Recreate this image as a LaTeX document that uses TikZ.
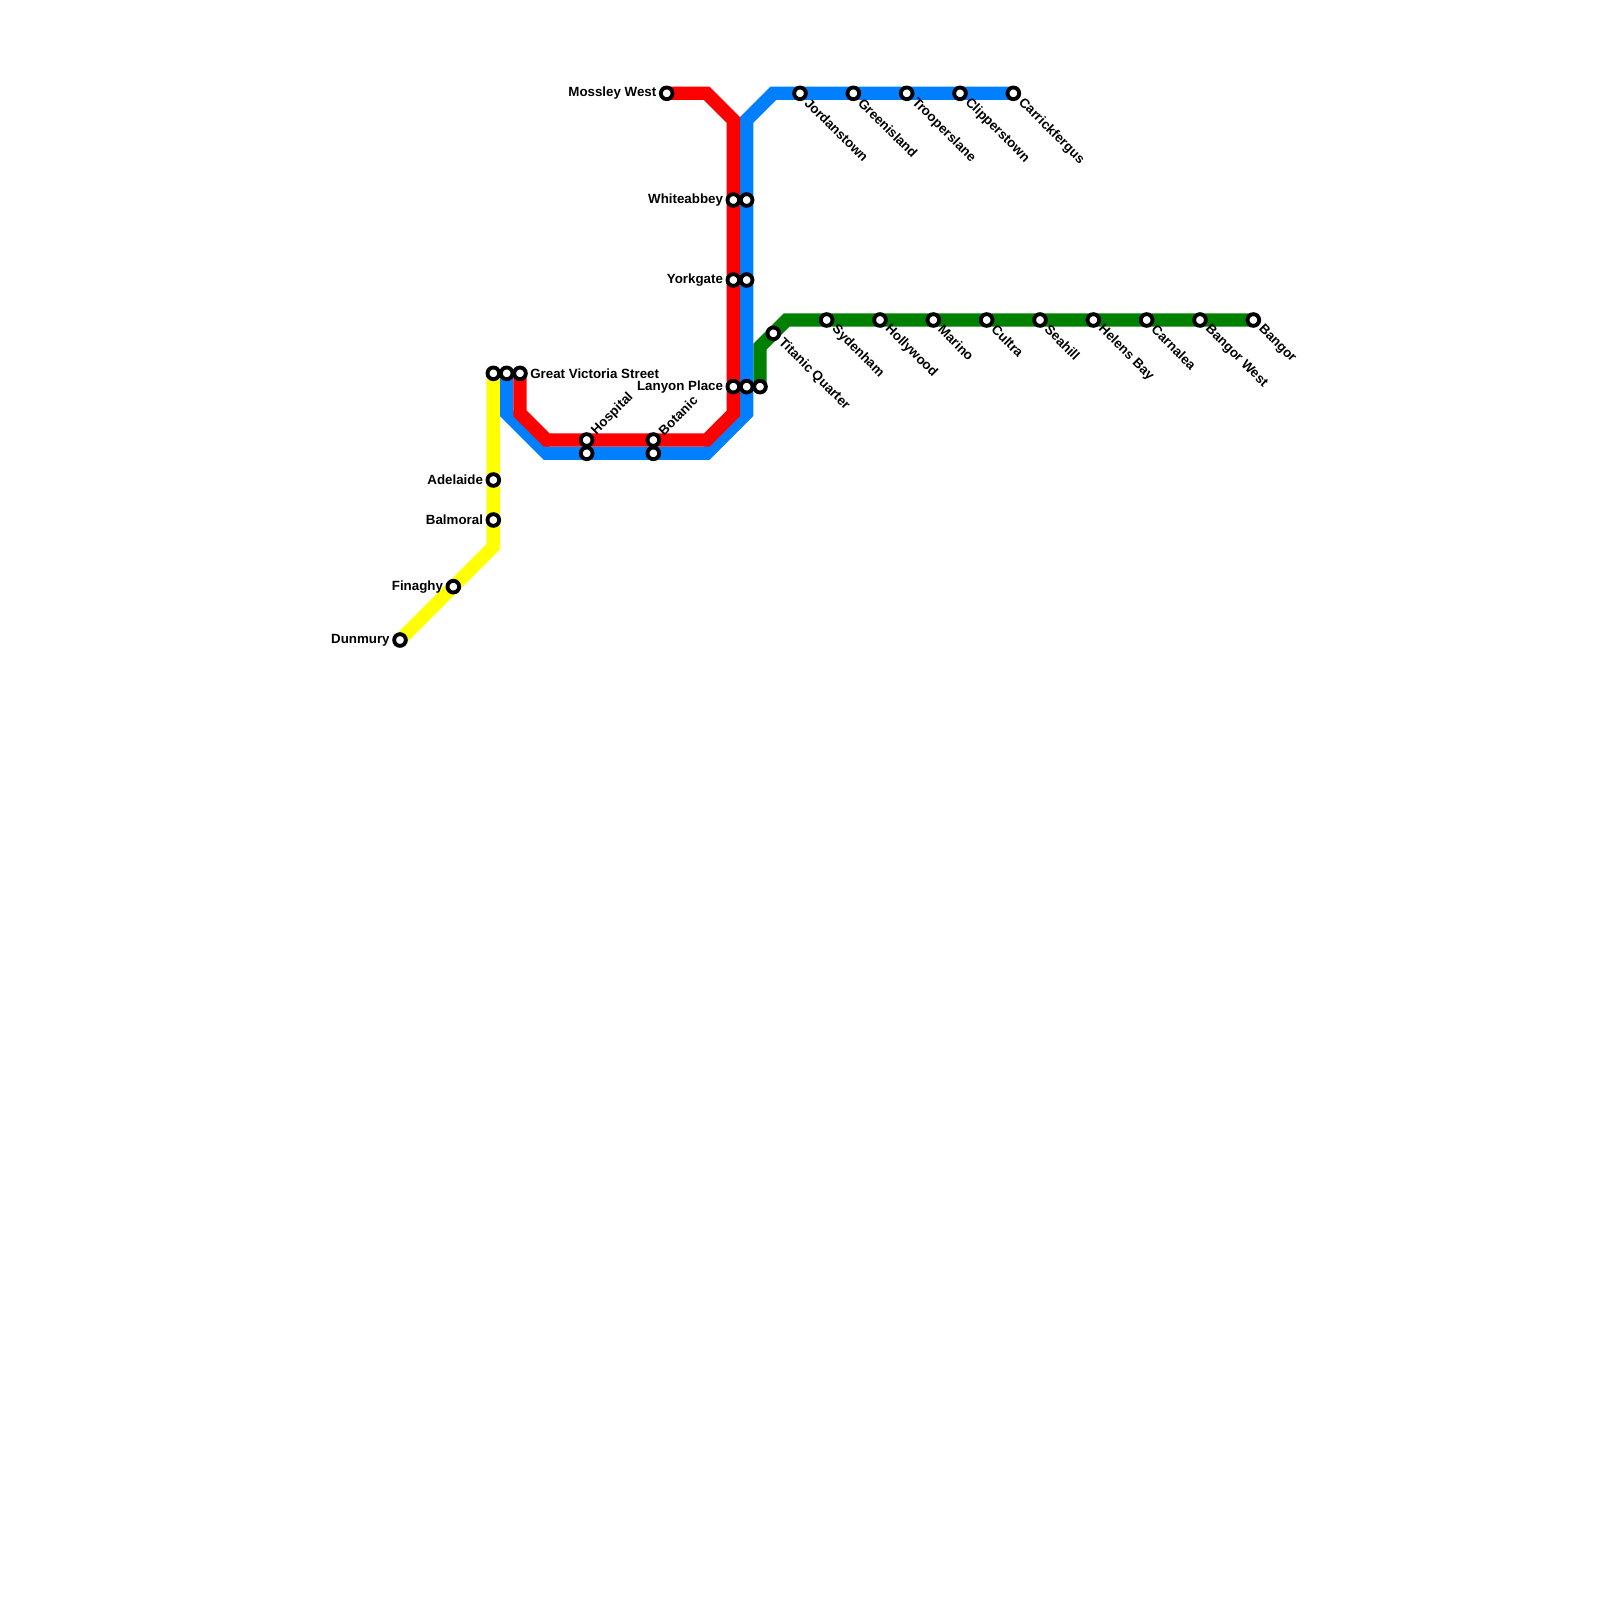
\documentclass[tikz,border=0pt]{standalone}
\usepackage{fontspec}
\setmainfont{Liberation Sans}
\usetikzlibrary{backgrounds}
\definecolor{railblue}{RGB}{0,128,255}
\definecolor{railred}{RGB}{255,0,0}
\definecolor{railyellow}{RGB}{255,255,0}
\definecolor{railgreen}{RGB}{0,128,0}
\begin{document}
\begin{tikzpicture}[
  x=0.2cm, y=-0.2cm,
  font=\fontsize{5.69}{6.5}\selectfont\bfseries,
  stn/.style={circle, draw=black, fill=white, line width=0.58mm, minimum size=1.75mm, inner sep=0pt},
  rail/.style={line width=0.2cm, line join=miter},
  lw/.style={label={[anchor=east, inner sep=0.9pt]180:#1}},
  le/.style={label={[anchor=west, inner sep=0.9pt]0:#1}},
  lse/.style={label={[anchor=west, rotate=-45, inner sep=0.9pt]-45:#1}},
  lne/.style={label={[anchor=west, rotate=45, inner sep=0.9pt]45:#1}}]
  \useasboundingbox (0,0) rectangle (120,120);
  % yellow line
  \node[stn] (gvsY) at (37,28) {};
  \node[stn, lw=Adelaide] (adelaide) at (37,36) {};
  \node[stn, lw=Balmoral] (balmoral) at (37,39) {};
  \coordinate (yBend) at (37,41);
  \node[stn, lw=Finaghy] (finaghy) at (34,44) {};
  \node[stn, lw=Dunmury] (dunmury) at (30,48) {};
  % red line
  \node[stn, lw=Mossley West] (mossley) at (50,7) {};
  \coordinate (rTopA) at (53,7);
  \coordinate (rTopB) at (55,9);
  \node[stn, lw=Whiteabbey] (whiteR) at (55,15) {};
  \node[stn, lw=Yorkgate] (yorkR) at (55,21) {};
  \node[stn, lw=Lanyon Place] (lanyonR) at (55,29) {};
  \coordinate (rLowA) at (55,31);
  \coordinate (rLowB) at (53,33);
  \node[stn, lne=Botanic] (botanicR) at (49,33) {};
  \node[stn, lne=Hospital] (hospitalR) at (44,33) {};
  \coordinate (rLowC) at (41,33);
  \coordinate (rLowD) at (39,31);
  \node[stn, le=Great Victoria Street] (gvsR) at (39,28) {};
  % blue line
  \node[stn] (gvsB) at (38,28) {};
  \coordinate (bLowD) at (38,31);
  \coordinate (bLowC) at (41,34);
  \node[stn] (hospitalB) at (44,34) {};
  \node[stn] (botanicB) at (49,34) {};
  \coordinate (bLowB) at (53,34);
  \coordinate (bLowA) at (56,31);
  \node[stn] (lanyonB) at (56,29) {};
  \node[stn] (yorkB) at (56,21) {};
  \node[stn] (whiteB) at (56,15) {};
  \coordinate (bTopB) at (56,9);
  \coordinate (bTopA) at (58,7);
  \node[stn, lse=Jordanstown] (jordan) at (60,7) {};
  \node[stn, lse=Greenisland] (green) at (64,7) {};
  \node[stn, lse=Trooperslane] (troop) at (68,7) {};
  \node[stn, lse=Clipperstown] (clip) at (72,7) {};
  \node[stn, lse=Carrickfergus] (carrick) at (76,7) {};
  % green line
  \node[stn] (lanyonG) at (57,29) {};
  \coordinate (gBendA) at (57,26);
  \node[stn, lse=Titanic Quarter] (titanic) at (58,25) {};
  \coordinate (gBendB) at (59,24);
  \node[stn, lse=Sydenham] (sydenham) at (62,24) {};
  \node[stn, lse=Hollywood] (holly) at (66,24) {};
  \node[stn, lse=Marino] (marino) at (70,24) {};
  \node[stn, lse=Cultra] (cultra) at (74,24) {};
  \node[stn, lse=Seahill] (seahill) at (78,24) {};
  \node[stn, lse=Helens Bay] (helens) at (82,24) {};
  \node[stn, lse=Carnalea] (carnalea) at (86,24) {};
  \node[stn, lse=Bangor West] (bangorW) at (90,24) {};
  \node[stn, lse=Bangor] (bangor) at (94,24) {};
  \begin{scope}[on background layer]
    \draw[rail, color=railgreen] (lanyonG.center) -- (gBendA) -- (gBendB) -- (bangor.center);
    \draw[rail, color=railyellow] (gvsY.center) -- (yBend) -- (dunmury.center);
    \draw[rail, color=railblue] (gvsB.center) -- (bLowD) -- (bLowC) -- (bLowB) -- (bLowA) -- (bTopB) -- (bTopA) -- (carrick.center);
    \draw[rail, color=railred] (mossley.center) -- (rTopA) -- (rTopB) -- (rLowA) -- (rLowB) -- (rLowC) -- (rLowD) -- (gvsR.center);
  \end{scope}
\end{tikzpicture}
\end{document}
